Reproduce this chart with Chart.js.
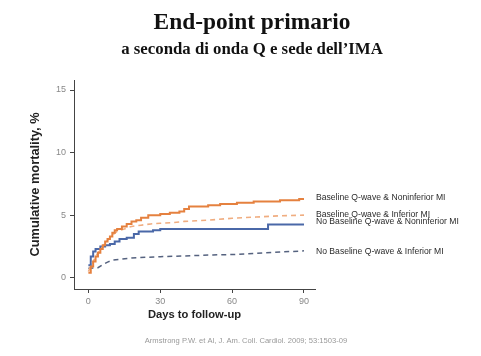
<!DOCTYPE html>
<html>
<head>
<meta charset="utf-8">
<script src="https://cdn.jsdelivr.net/npm/chart.js@4.4.1/dist/chart.umd.min.js"></script>
<style>
  html, body { margin: 0; padding: 0; background: #fff; }
  #wrap { width: 481px; height: 356px; }
</style>
</head>
<body>
<div id="wrap"><canvas id="kmChart" width="481" height="356"></canvas></div>
<script>
// Kaplan-Meier style cumulative mortality
const xTicks = [0, 30, 60, 90];
const yTicks = [0, 5, 10, 15];

const seriesNames = [
	'Baseline Q-wave & Noninferior MI',
	'Baseline Q-wave & Inferior MI',
	'No Baseline Q-wave & Noninferior MI',
	'No Baseline Q-wave & Inferior MI'
];

const bqNoninfDays = [0, 1, 2, 3, 4, 5, 6, 7, 8, 9, 10, 11, 12, 14, 16, 18, 20, 22, 25, 28, 30, 34, 38, 40, 42, 50, 55, 62, 69, 75, 80, 85, 88, 90];
const bqNoninfVals = [0.4, 0.9, 1.3, 1.7, 2.0, 2.3, 2.6, 2.9, 3.1, 3.3, 3.6, 3.8, 3.9, 4.1, 4.3, 4.5, 4.6, 4.8, 5.0, 5.0, 5.1, 5.2, 5.3, 5.5, 5.7, 5.8, 5.9, 6.0, 6.1, 6.1, 6.2, 6.2, 6.3, 6.3];

const bqInfDays = [0, 2, 4, 6, 8, 10, 12, 15, 18, 22, 26, 30, 35, 40, 45, 50, 60, 70, 80, 90];
const bqInfVals = [0.5, 1.3, 2.0, 2.5, 3.0, 3.4, 3.7, 3.9, 4.1, 4.2, 4.3, 4.35, 4.4, 4.5, 4.55, 4.6, 4.75, 4.85, 4.95, 5.0];

const noBqNoninfDays = [0, 1, 2, 3, 5, 7, 9, 11, 13, 16, 19, 21, 27, 30, 74, 75, 90];
const noBqNoninfVals = [1.0, 1.7, 2.1, 2.3, 2.5, 2.6, 2.7, 2.9, 3.1, 3.2, 3.5, 3.7, 3.8, 3.9, 3.9, 4.25, 4.25];

const noBqInfDays = [0, 4, 6, 8, 10, 14, 18, 24, 30, 40, 52, 60, 70, 80, 90];
const noBqInfVals = [0.75, 0.8, 1.05, 1.25, 1.4, 1.5, 1.58, 1.63, 1.68, 1.74, 1.82, 1.85, 1.95, 2.05, 2.15];

const mainTitle = 'End-point primario';
const subTitle = 'a seconda di onda Q e sede dell\u2019IMA';
const citation = 'Armstrong P.W. et Al, J. Am. Coll. Cardiol. 2009; 53:1503-09';

function pairs(days, vals) {
	return days.map((d, i) => ({ x: d, y: vals[i] }));
}

// small vertical nudges for the end labels so they don't collide
const labelNudge = [-1, -0.5, -2.5, 0.3];

const slideText = {
	id: 'slideText',
	afterDatasetsDraw(chart) {
		const ctx = chart.ctx;
		const area = chart.chartArea;
		ctx.save();

		// slide titles, centred on the page rather than the plot
		ctx.fillStyle = '#111';
		ctx.textAlign = 'center';
		ctx.textBaseline = 'alphabetic';
		ctx.font = 'bold 23.4px "Liberation Serif", "Times New Roman", serif';
		ctx.fillText(mainTitle, 252, 28.5);
		ctx.font = 'bold 16.8px "Liberation Serif", "Times New Roman", serif';
		ctx.fillText(subTitle, 252, 53.5);

		// series names at the end of each curve
		ctx.font = '8.6px "Liberation Sans", Arial, sans-serif';
		ctx.fillStyle = '#2b2b2b';
		ctx.textBaseline = 'middle';
		ctx.textAlign = 'left';
		chart.data.datasets.forEach((ds, i) => {
			const pts = chart.getDatasetMeta(i).data;
			const last = pts[pts.length - 1];
			ctx.fillText(ds.label, area.right + 1, last.y + labelNudge[i]);
		});

		// source line at the bottom
		ctx.font = '7.6px "Liberation Sans", Arial, sans-serif';
		ctx.fillStyle = '#999';
		ctx.textAlign = 'center';
		ctx.fillText(citation, 246, 341);
		ctx.restore();
	}
};

const ctx = document.getElementById('kmChart').getContext('2d');
new Chart(ctx, {
	type: 'line',
	data: {
		datasets: [{
			label: seriesNames[0],
			data: pairs(bqNoninfDays, bqNoninfVals),
			borderColor: '#e5813f',
			borderWidth: 2,
			stepped: true
		}, {
			label: seriesNames[1],
			data: pairs(bqInfDays, bqInfVals),
			borderColor: '#f0ad80',
			borderWidth: 1.6,
			borderDash: [5, 4]
		}, {
			label: seriesNames[2],
			data: pairs(noBqNoninfDays, noBqNoninfVals),
			borderColor: '#4a68a8',
			borderWidth: 2,
			stepped: true
		}, {
			label: seriesNames[3],
			data: pairs(noBqInfDays, noBqInfVals),
			borderColor: '#55627f',
			borderWidth: 1.5,
			borderDash: [5, 4]
		}]
	},
	options: {
		responsive: false,
		animation: false,
		layout: { padding: { top: 80, right: 166, bottom: 0, left: 0 } },
		elements: { point: { radius: 0 }, line: { tension: 0, fill: false } },
		plugins: {
			legend: { display: false },
			tooltip: { enabled: false }
		},
		scales: {
			x: {
				type: 'linear',
				min: -6,
				max: 94.6,
				afterBuildTicks: (axis) => { axis.ticks = xTicks.map(v => ({ value: v })); },
				afterFit: (axis) => { axis.height = 67; },
				grid: { display: true, drawOnChartArea: false, drawTicks: true, tickLength: 4, color: '#444' },
				border: { display: true, color: '#444', width: 1 },
				ticks: {
					color: '#888',
					padding: 3,
					maxRotation: 0,
					font: { family: '"Liberation Sans", Arial, sans-serif', size: 9 }
				},
				title: {
					display: true,
					text: 'Days to follow-up',
					color: '#222',
					font: { family: '"Liberation Sans", Arial, sans-serif', size: 11.2, weight: 'bold' },
					padding: { top: 0, bottom: 34.3 }
				}
			},
			y: {
				min: -0.9,
				max: 15.8,
				afterBuildTicks: (axis) => { axis.ticks = yTicks.map(v => ({ value: v })); },
				afterFit: (axis) => { axis.width = 74; },
				grid: { display: true, drawOnChartArea: false, drawTicks: true, tickLength: 4, color: '#444' },
				border: { display: true, color: '#444', width: 1 },
				ticks: {
					color: '#888',
					padding: 4,
					font: { family: '"Liberation Sans", Arial, sans-serif', size: 9 }
				},
				title: {
					display: true,
					text: 'Cumulative mortality, %',
					color: '#222',
					font: { family: '"Liberation Sans", Arial, sans-serif', size: 12.8, weight: 'bold' },
					padding: { top: 27.3, bottom: 0 }
				}
			}
		}
	},
	plugins: [slideText]
});
</script>
</body>
</html>
